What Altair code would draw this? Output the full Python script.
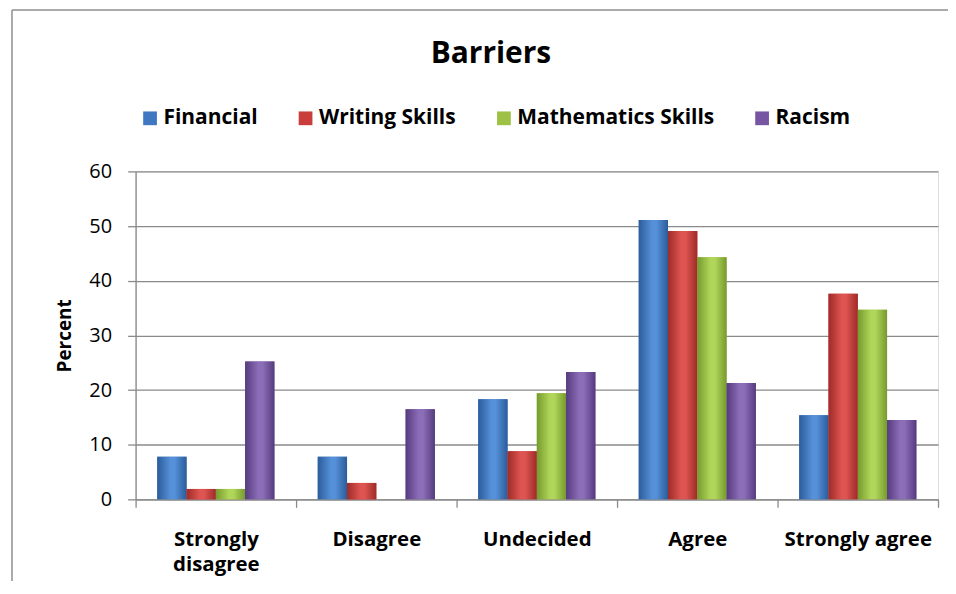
import altair as alt
import pandas as pd

categories = ["Strongly disagree", "Disagree", "Undecided", "Agree", "Strongly agree"]
series = ["Financial", "Writing Skills", "Mathematics Skills", "Racism"]
financial = [7.8, 7.8, 18.3, 51.1, 15.4]
writing = [1.9, 3.0, 8.8, 49.1, 37.6]
maths = [1.9, 0.0, 19.4, 44.3, 34.7]
racism = [25.2, 16.5, 23.3, 21.3, 14.5]
y_ticks = [0, 10, 20, 30, 40, 50, 60]

colors = ["#3F78C0", "#C93E3A", "#9CC145", "#7656A3"]
edge_colors = ["#2B5C9A", "#9E2B28", "#769A2E", "#563B7E"]
center_colors = ["#5590D8", "#DE5450", "#B0D659", "#8C6DB8"]

rows = []
for s, vals in zip(series, [financial, writing, maths, racism]):
    for c, v in zip(categories, vals):
        rows.append({"category": c, "series": s, "value": v})
df = pd.DataFrame(rows)

FONT = "Open Sans"
GRID = "#8a8a8a"

x_enc = alt.X(
    "category:N",
    sort=categories,
    scale=alt.Scale(paddingInner=0, paddingOuter=0),
    axis=alt.Axis(
        title=None,
        labelAngle=0,
        tickBand="extent",
        labelFont=FONT,
        labelFontSize=20.5,
        labelFontWeight="bold",
        labelColor="#000000",
        labelPadding=22,
        labelLineHeight=25,
        labelExpr="datum.label == 'Strongly disagree' ? ['Strongly', 'disagree'] : datum.label",
        tickSize=8,
        tickColor=GRID,
        tickWidth=1.3,
        domainColor=GRID,
        domainWidth=1.3,
        grid=False,
    ),
)
y_enc = alt.Y(
    "value:Q",
    scale=alt.Scale(domain=[0, 60], nice=False),
    axis=alt.Axis(
        values=y_ticks,
        title="Percent",
        titleFont=FONT,
        titleFontSize=19,
        titleFontWeight="bold",
        titleColor="#000000",
        titlePadding=14,
        labelFont=FONT,
        labelFontSize=20,
        labelColor="#000000",
        labelPadding=16,
        tickSize=8,
        tickColor=GRID,
        tickWidth=1.3,
        domainColor=GRID,
        domainWidth=1.3,
        gridColor=GRID,
        gridWidth=1.3,
    ),
)
xo_enc = alt.XOffset(
    "series:N", scale=alt.Scale(domain=series, paddingInner=0, paddingOuter=0.74)
)

base = alt.Chart(df).mark_bar().encode(
    x=x_enc,
    y=y_enc,
    xOffset=xo_enc,
    color=alt.Color(
        "series:N",
        scale=alt.Scale(domain=series, range=colors),
        legend=alt.Legend(
            title=None,
            orient="none",
            legendX=4,
            legendY=-64,
            direction="horizontal",
            symbolType="square",
            symbolSize=190,
            symbolStrokeWidth=0,
            labelFont=FONT,
            labelFontSize=21,
            labelFontWeight="bold",
            labelColor="#000000",
            labelOffset=3,
            labelLimit=400,
            columnPadding=37,
        ),
    ),
)

layers = [base]
for s, e, m in zip(series, edge_colors, center_colors):
    grad = alt.Gradient(
        gradient="linear",
        x1=0, x2=1, y1=0, y2=0,
        stops=[
            alt.GradientStop(color=e, offset=0),
            alt.GradientStop(color=m, offset=0.45),
            alt.GradientStop(color=m, offset=0.6),
            alt.GradientStop(color=e, offset=1),
        ],
    )
    layers.append(
        alt.Chart(df)
        .transform_filter(alt.datum.series == s)
        .mark_bar(color=grad)
        .encode(x=x_enc, y=y_enc, xOffset=xo_enc)
    )

dummy = pd.DataFrame({"d": [0]})
border_left = alt.Chart(dummy).mark_rule(color="#8f8f8f", strokeWidth=1.5).encode(
    x=alt.value(-124), y=alt.value(-162), y2=alt.value(411)
)
border_top = alt.Chart(dummy).mark_rule(color="#8f8f8f", strokeWidth=1.5).encode(
    x=alt.value(-124), x2=alt.value(815), y=alt.value(-162)
)
layers += [border_left, border_top]

chart = alt.layer(*layers).properties(
    width=805,
    height=329,
    title=alt.TitleParams(
        "Barriers",
        font=FONT,
        fontSize=30,
        fontWeight="bold",
        color="#000000",
        anchor="middle",
        dx=-46,
        dy=60,
        offset=0,
    ),
    autosize=alt.AutoSizeParams(type="none"),
    padding={"left": 128, "top": 163, "right": 10, "bottom": 82},
).configure_view(stroke=None).configure(background="white")

chart.save("out.html", embed_options={"renderer": "svg", "actions": False})
